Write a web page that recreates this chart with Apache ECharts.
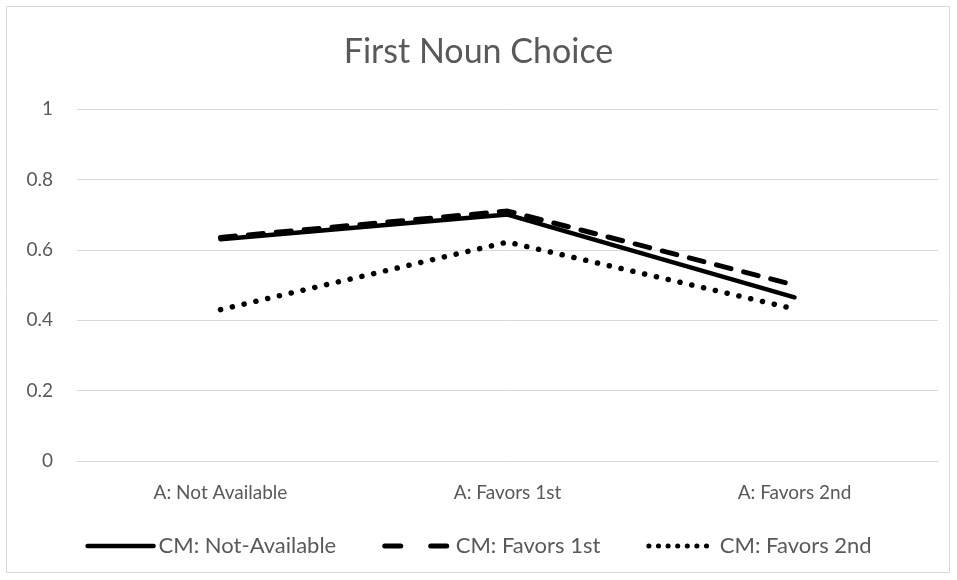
<!DOCTYPE html>
<html>
<head>
<meta charset="utf-8">
<script src="https://cdn.jsdelivr.net/npm/echarts@6/dist/echarts.min.js"></script>
<style>
  html, body { margin: 0; padding: 0; background: #fff; }
  #main { width: 957px; height: 580px; }
</style>
</head>
<body>
<div id="main"></div>
<script>
// categories and values
var categories = ['A: Not Available', 'A: Favors 1st', 'A: Favors 2nd'];
var notAvailable = [0.63, 0.70, 0.465];
var favors1st = [0.635, 0.71, 0.50];
var favors2nd = [0.43, 0.622, 0.432];
var yTicks = [0, 0.2, 0.4, 0.6, 0.8, 1];

var chart = echarts.init(document.getElementById('main'));
var textColor = '#595959';
var font = 'Lato, "Open Sans", sans-serif';

var solidStyle = { color: '#000', width: 4.5, cap: 'round' };
var dashStyle = { color: '#000', width: 5, type: [15, 13], cap: 'round' };
var dotStyle = { color: '#000', width: 5.5, type: [0.1, 12], cap: 'round' };

var option = {
  animation: false,
  title: {
    text: 'First Noun Choice',
    left: 'center',
    top: 30,
    textStyle: { fontFamily: font, fontSize: 34, fontWeight: 'normal', color: textColor }
  },
  graphic: [{
    type: 'rect',
    shape: { x: 6.5, y: 6.5, width: 943, height: 566 },
    style: { fill: 'none', stroke: '#d9d9d9', lineWidth: 1 },
    silent: true
  }],
  legend: {
    bottom: 18,
    left: 'center',
    itemWidth: 66,
    itemHeight: 14,
    itemGap: 46,
    itemStyle: { opacity: 0 },
    textStyle: { fontFamily: font, fontSize: 22, color: textColor },
    data: [
      { name: 'CM: Not-Available', lineStyle: solidStyle },
      { name: 'CM: Favors 1st', lineStyle: { color: '#000', width: 5, type: [16, 30], cap: 'round' } },
      { name: 'CM: Favors 2nd', lineStyle: { color: '#000', width: 5, type: [0.1, 9.5], cap: 'round' } }
    ]
  },
  grid: { left: 77, right: 19, top: 109, bottom: 119 },
  xAxis: {
    type: 'category',
    data: categories,
    axisLine: { lineStyle: { color: '#d9d9d9', width: 1 } },
    axisTick: { show: false },
    axisLabel: { fontFamily: font, fontSize: 19, color: textColor, margin: 22 }
  },
  yAxis: {
    type: 'value',
    min: 0,
    max: 1,
    interval: 0.2,
    axisLine: { show: false },
    axisTick: { show: false },
    splitLine: { lineStyle: { color: '#d9d9d9', width: 1 } },
    axisLabel: {
      fontFamily: font, fontSize: 19, color: textColor, margin: 24,
      formatter: function (v) {
        var t = yTicks.find(function (x) { return Math.abs(x - v) < 1e-9; });
        return t === undefined ? '' : String(t);
      }
    }
  },
  series: [
    {
      name: 'CM: Not-Available',
      type: 'line',
      data: notAvailable,
      symbol: 'none',
      z: 3,
      lineStyle: solidStyle,
      itemStyle: { color: '#000' }
    },
    {
      name: 'CM: Favors 1st',
      type: 'line',
      data: favors1st,
      symbol: 'none',
      z: 2,
      lineStyle: dashStyle,
      itemStyle: { color: '#000' }
    },
    {
      name: 'CM: Favors 2nd',
      type: 'line',
      data: favors2nd,
      symbol: 'none',
      z: 2,
      lineStyle: dotStyle,
      itemStyle: { color: '#000' }
    }
  ]
};

chart.setOption(option);
</script>
</body>
</html>
